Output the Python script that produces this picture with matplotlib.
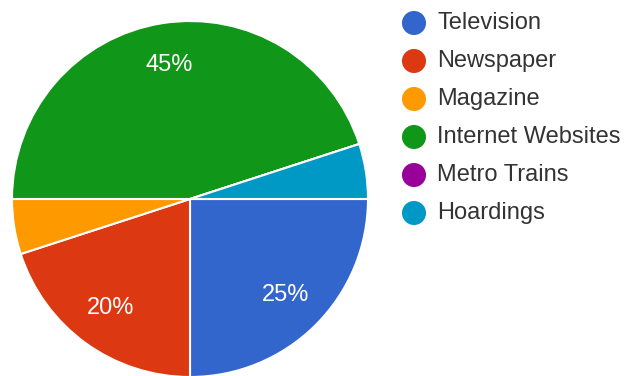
import matplotlib.pyplot as plt

plt.rcParams['font.family'] = ['Liberation Sans', 'DejaVu Sans']

# media sources and their shares (percent)
media = ['Television', 'Newspaper', 'Magazine', 'Internet Websites', 'Metro Trains', 'Hoardings']
shares = [25, 20, 5, 45, 0, 5]
colors = ['#3366CC', '#DC3912', '#FF9900', '#109618', '#990099', '#0099C6']

W, H = 627, 376
fig = plt.figure(figsize=(W / 100, H / 100), dpi=100)
ax = fig.add_axes([0, 0, 1, 1])

# pie starts at 3 o'clock and runs clockwise; small slices stay unlabelled
def pct_label(p):
    return f'{p:.0f}%' if p >= 10 else ''

wedges, _, pct_texts = ax.pie(
    shares, colors=colors, startangle=0, counterclock=False,
    center=(190, H - 199), radius=178, frame=True,
    autopct=pct_label, pctdistance=0.76,
    wedgeprops=dict(edgecolor='white', linewidth=1.5),
    textprops=dict(color='white', fontsize=17),
)
ax.set_xlim(0, W)
ax.set_ylim(0, H)
ax.axis('off')

# legend: coloured dots with labels down the right side
for i, (name, color) in enumerate(zip(media, colors)):
    y = H - (23 + 38 * i)
    ax.scatter(414, y, s=300, color=color, edgecolors='none', clip_on=False)
    ax.text(437, y, name, fontsize=17, color='#333333', va='center', ha='left')

fig.savefig('out.png', dpi=100)
